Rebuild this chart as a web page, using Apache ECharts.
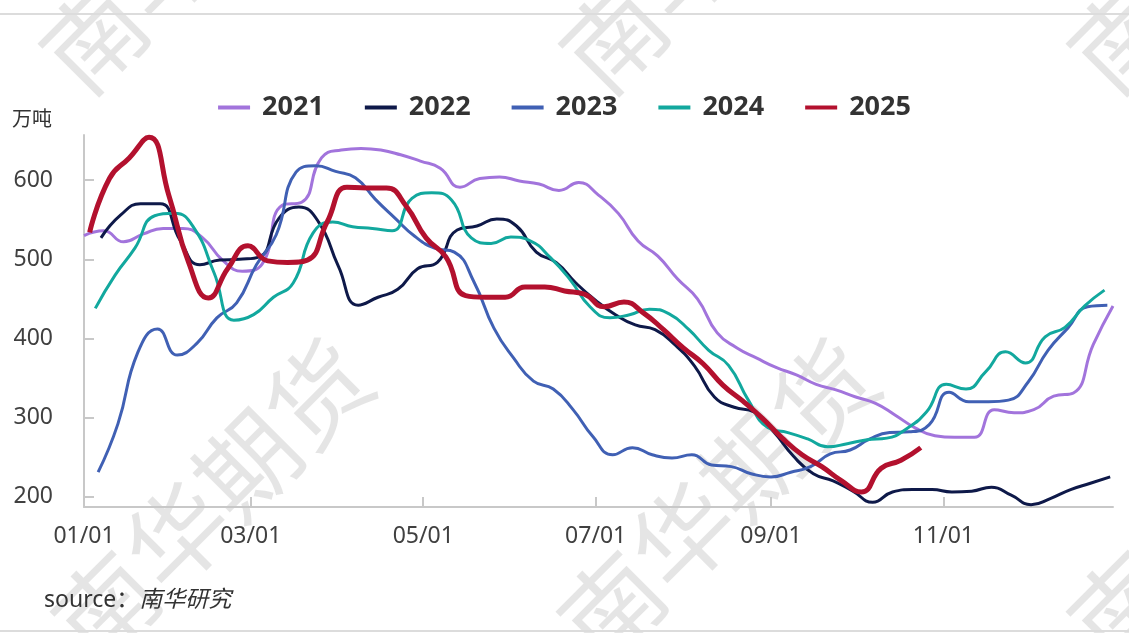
<!DOCTYPE html>
<html>
<head>
<meta charset="utf-8">
<script src="https://cdn.jsdelivr.net/npm/echarts@6.0.0/dist/echarts.min.js"></script>
<style>
  html, body { margin: 0; padding: 0; background: #fff; }
  #stock-chart { width: 1129px; height: 633px; }
</style>
</head>
<body>
<div id="stock-chart"></div>
<script>
  // weekly (Friday) stock, 万吨
  const years = ['2021', '2022', '2023', '2024', '2025']
  const colors = ['#a274dc', '#0e1949', '#4060b4', '#12a89e', '#b3112e']
  // day of year of each year's first Friday
  const startDays = [0, 6, 5, 4, 2]

  const v2021 = [530, 536, 522, 532, 539, 539, 527, 499, 485, 494, 568, 572, 628, 638, 640, 638, 632, 624, 615, 591,
    602, 604, 599, 595, 587, 597, 581, 558, 523, 504, 475, 450, 407, 388, 375, 363, 354, 342, 335, 326,
    318, 303, 287, 277, 275, 275, 310, 306, 310, 327, 331, 392, 441]
  const v2022 = [527, 556, 570, 570, 524, 493, 499, 500, 503, 552, 566, 547, 491, 442, 452, 462, 488, 496, 537, 542,
    551, 542, 509, 496, 470, 448, 430, 417, 411, 392, 365, 326, 313, 307, 282, 251, 229, 220, 207, 193,
    206, 209, 209, 206, 207, 212, 202, 190, 198, 209, 217, 225]
  const v2023 = [231, 292, 382, 412, 379, 394, 426, 445, 493, 531, 610, 618, 611, 603, 576, 552, 529, 514, 509, 471,
    413, 375, 346, 336, 310, 276, 253, 262, 253, 249, 253, 240, 238, 229, 225, 231, 238, 254, 259, 273,
    281, 282, 291, 332, 320, 320, 322, 345, 385, 413, 440, 442]
  const v2024 = [438, 480, 514, 555, 558, 539, 483, 423, 430, 452, 470, 533, 547, 541, 539, 536, 577, 584, 575, 527,
    520, 528, 523, 502, 474, 440, 426, 430, 437, 431, 411, 385, 366, 322, 287, 281, 273, 263, 267, 272,
    274, 286, 307, 342, 336, 358, 383, 369, 402, 414, 441, 461]
  const v2025 = [534, 602, 628, 654, 581, 496, 451, 489, 517, 498, 496, 499, 547, 591, 590, 590, 567, 527, 503, 454,
    452, 452, 465, 465, 460, 456, 440, 446, 432, 411, 388, 368, 341, 321, 299, 274, 253, 238, 220, 206,
    236, 246, 262]
  const seriesValues = [v2021, v2022, v2023, v2024, v2025]

  const xTickDays = [0, 59, 120, 181, 243, 304]
  const xTickLabels = ['01/01', '03/01', '05/01', '07/01', '09/01', '11/01']
  const yTicks = [200, 300, 400, 500, 600]

  const font = "'Noto Sans', 'Noto Sans CJK SC', sans-serif"
  const axisGrey = '#c8c8c8'

  // watermark centres
  const marks = [[200, -68], [720, -68], [1228, -68], [212, 500], [718, 500], [1228, 500]]

  const myChart = echarts.init(document.getElementById('stock-chart'))
  myChart.setOption({
    animation: false,
    textStyle: { fontFamily: font },
    grid: { left: 84, right: 16, top: 135, bottom: 126 },
    legend: {
      data: years,
      top: 89,
      left: 'center',
      icon: 'rect',
      itemWidth: 32,
      itemHeight: 4,
      itemGap: 41,
      textStyle: { fontSize: 27, fontWeight: 'bold', color: '#333', padding: [0, 0, 0, 7] }
    },
    xAxis: {
      type: 'value',
      min: 0,
      max: 364,
      axisLine: { show: true, lineStyle: { color: axisGrey, width: 2 } },
      axisTick: { show: true, inside: true, length: 10, customValues: xTickDays, lineStyle: { color: axisGrey, width: 2 } },
      axisLabel: {
        customValues: xTickDays,
        formatter: v => xTickLabels[xTickDays.indexOf(v)],
        fontSize: 23,
        color: '#404040',
        margin: 18
      },
      splitLine: { show: false }
    },
    yAxis: {
      type: 'value',
      min: 187,
      max: 657,
      name: '万吨',
      nameLocation: 'end',
      nameGap: 5,
      nameTextStyle: { fontSize: 20, color: '#333', align: 'right', padding: [0, 32, 0, 0] },
      axisLine: { show: true, lineStyle: { color: axisGrey, width: 2 } },
      axisTick: { show: true, inside: true, length: 10, customValues: yTicks, lineStyle: { color: axisGrey, width: 2 } },
      axisLabel: { customValues: yTicks, fontSize: 23, color: '#404040', margin: 31 },
      splitLine: { show: false }
    },
    graphic: [
      ...marks.map(p => ({
        type: 'text',
        x: p[0],
        y: p[1],
        rotation: Math.PI / 4,
        z: -10,
        silent: true,
        style: {
          text: '南华期货',
          fontSize: 100,
          fontFamily: "'Noto Sans CJK SC'",
          fill: 'rgba(0,0,0,0.1)',
          align: 'center',
          verticalAlign: 'middle'
        }
      })),
      { type: 'line', shape: { x1: 0, y1: 14, x2: 1129, y2: 14 }, style: { stroke: '#dcdcdc', lineWidth: 2 } },
      { type: 'line', shape: { x1: 0, y1: 631, x2: 1129, y2: 631 }, style: { stroke: '#dcdcdc', lineWidth: 2 } },
      {
        type: 'text',
        left: 44,
        top: 589,
        style: {
          text: '{a|source：}{b|南华研究}',
          rich: {
            a: { fontSize: 23, fill: '#333', fontFamily: font },
            b: { fontSize: 23, fill: '#333', fontStyle: 'italic', fontFamily: font }
          }
        }
      }
    ],
    series: seriesValues.map((vals, k) => ({
      name: years[k],
      type: 'line',
      smooth: true,
      symbol: 'none',
      data: vals.map((v, i) => [startDays[k] + 7 * i, v]),
      lineStyle: { width: k === 4 ? 5 : 3, color: colors[k] },
      itemStyle: { color: colors[k] },
      z: k === 4 ? 10 : 2
    }))
  })
</script>
</body>
</html>
